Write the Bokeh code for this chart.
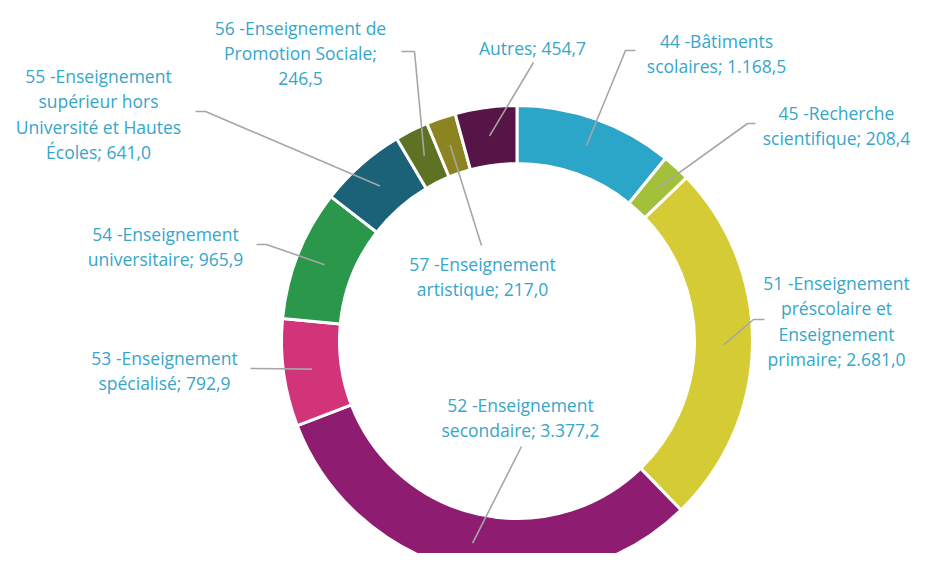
import math
from bokeh.plotting import figure
from bokeh.models import Range1d, ColumnDataSource
from bokeh.core.properties import value
from bokeh.embed import file_html
from bokeh.resources import INLINE

# ---- data ----
categories = ["44 -Bâtiments scolaires", "45 -Recherche scientifique",
              "51 -Enseignement préscolaire et Enseignement primaire",
              "52 -Enseignement secondaire", "53 -Enseignement spécialisé",
              "54 -Enseignement universitaire",
              "55 -Enseignement supérieur hors Université et Hautes Écoles",
              "56 -Enseignement de Promotion Sociale",
              "57 -Enseignement artistique", "Autres"]
amounts = [1168.5, 208.4, 2681.0, 3377.2, 792.9, 965.9, 641.0, 246.5, 217.0, 454.7]
colors = ["#2ba5c8", "#a3c03b", "#d5cc35", "#8e1d72", "#d2347a",
          "#2a974a", "#1b6279", "#5e7224", "#8b8420", "#561546"]
label_lines = [
    ["44 -Bâtiments", "scolaires; 1.168,5"],
    ["45 -Recherche", "scientifique; 208,4"],
    ["51 -Enseignement", "préscolaire et", "Enseignement", "primaire; 2.681,0"],
    ["52 -Enseignement", "secondaire; 3.377,2"],
    ["53 -Enseignement", "spécialisé; 792,9"],
    ["54 -Enseignement", "universitaire; 965,9"],
    ["55 -Enseignement", "supérieur hors", "Université et Hautes", "Écoles; 641,0"],
    ["56 -Enseignement de", "Promotion Sociale;", "246,5"],
    ["57 -Enseignement", "artistique; 217,0"],
    ["Autres; 454,7"],
]

# ---- layout (screen px of the picture) ----
W, H = 913, 553
label_pos = [(716, 40), (836, 112), (836, 282), (520, 404), (164, 357),
             (165, 233), (98, 75), (300, 27), (482, 263), (532, 47)]
elbows = [[(635, 50), (625, 50)], [(755, 123), (747, 123)],
          [(764, 319), (753, 319)], [(521, 446)], [(250, 368)],
          [(256, 244), (266, 244)], [(195, 111), (205, 111)],
          [(401, 51), (414, 51)], [(481, 245)], [(533, 62)]]
line_h = 25.5
cx, cy = 516.5, 340.5
r_out, r_in, r_lead = 235.5, 177.5, 207

def Y(sy):
    return H - sy

p = figure(width=W, height=H, output_backend="svg", toolbar_location=None,
           x_range=Range1d(0, W), y_range=Range1d(0, H),
           min_border=0)
p.axis.visible = False
p.grid.visible = False
p.outline_line_color = None
p.background_fill_color = "white"

total = sum(amounts)
starts, ends, mids = [], [], []
acc = 0.0
for a in amounts:
    s = acc / total * 2 * math.pi
    acc += a
    e = acc / total * 2 * math.pi
    starts.append(math.pi / 2 - s)
    ends.append(math.pi / 2 - e)
    mids.append((s + e) / 2)

src = ColumnDataSource(dict(start=starts, end=ends, color=colors, cat=categories, val=amounts))
p.annular_wedge(x=cx, y=Y(cy), inner_radius=r_in, outer_radius=r_out,
                start_angle="start", end_angle="end", direction="clock",
                fill_color="color", line_color="white", line_width=3, source=src)

# leader lines
xs, ys = [], []
for el, m in zip(elbows, mids):
    ex = cx + r_lead * math.sin(m)
    ey = cy - r_lead * math.cos(m)
    pts = el + [(ex, ey)]
    xs.append([pt[0] for pt in pts])
    ys.append([Y(pt[1]) for pt in pts])
p.multi_line(xs=xs, ys=ys, line_color="#a6a6a6", line_width=1.6)

# labels
tx, ty, tt = [], [], []
for lines, (lx, ly) in zip(label_lines, label_pos):
    for i, t in enumerate(lines):
        tx.append(lx)
        ty.append(Y(ly + i * line_h))
        tt.append(t)
p.text(x=tx, y=ty, text=tt, text_align="center", text_baseline="middle",
       text_font=value("Open Sans"), text_font_size="17.5px", text_color="#36a6c9")

open("out.html", "w").write(file_html(p, INLINE))
